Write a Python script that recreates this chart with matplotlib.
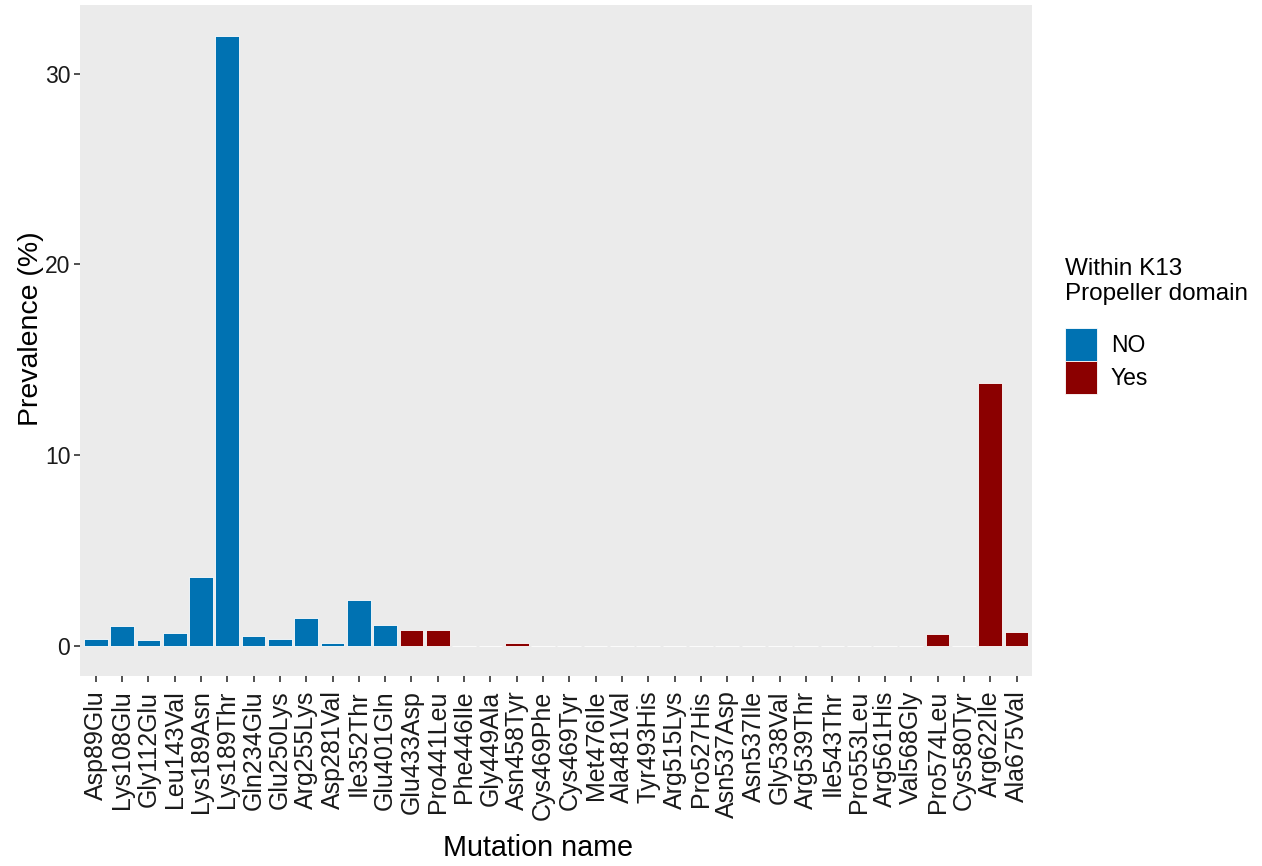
import matplotlib
matplotlib.use("Agg")
import matplotlib.pyplot as plt
from matplotlib.patches import Patch

plt.rcParams["font.family"] = ["Liberation Sans", "DejaVu Sans"]

mutations = [
    "Asp89Glu", "Lys108Glu", "Gly112Glu", "Leu143Val", "Lys189Asn", "Lys189Thr",
    "Gln234Glu", "Glu250Lys", "Arg255Lys", "Asp281Val", "Ile352Thr", "Glu401Gln",
    "Glu433Asp", "Pro441Leu", "Phe446Ile", "Gly449Ala", "Asn458Tyr", "Cys469Phe",
    "Cys469Tyr", "Met476Ile", "Ala481Val", "Tyr493His", "Arg515Lys", "Pro527His",
    "Asn537Asp", "Asn537Ile", "Gly538Val", "Arg539Thr", "Ile543Thr", "Pro553Leu",
    "Arg561His", "Val568Gly", "Pro574Leu", "Cys580Tyr", "Arg622Ile", "Ala675Val",
]
prevalence = [
    0.35, 1.02, 0.28, 0.65, 3.59, 32.0,
    0.49, 0.35, 1.44, 0.14, 2.41, 1.07,
    0.82, 0.82, 0.0, 0.0, 0.14, 0.0,
    0.0, 0.0, 0.0, 0.0, 0.0, 0.0,
    0.0, 0.0, 0.0, 0.0, 0.0, 0.0,
    0.0, 0.0, 0.61, 0.0, 13.75, 0.70,
]
# 12 mutations outside the propeller domain, the rest inside
in_propeller = ["NO"] * 12 + ["Yes"] * 24

palette = {"NO": "#0072B2", "Yes": "#8B0000"}

fig = plt.figure(figsize=(12.62, 8.66), dpi=100)
ax = fig.add_axes([0.0634, 0.2194, 0.7546, 0.7746])
ax.set_facecolor("#EBEBEB")

x = range(len(mutations))
ax.bar(x, prevalence, width=0.9,
       color=[palette[g] for g in in_propeller],
       edgecolor="white", linewidth=0.6)

ax.set_xlim(-0.6, len(mutations) - 0.4)
ax.set_ylim(-1.6, 33.6)
ax.set_yticks([0, 10, 20, 30])
ax.set_xticks(list(x))
ax.set_xticklabels(mutations, rotation=90, fontsize=18, color="#1a1a1a")
ax.tick_params(axis="y", labelsize=16.5, labelcolor="#1a1a1a", pad=3)
ax.tick_params(axis="x", pad=6.5)
ax.tick_params(axis="both", length=4, width=1.2, color="#333333")
for s in ax.spines.values():
    s.set_visible(False)

ax.set_ylabel("Prevalence (%)", fontsize=20.5)
ax.yaxis.set_label_coords(-0.038, 0.518)
fig.text(0.426, 0.021, "Mutation name", fontsize=20.7, ha="center", va="center")

handles = [Patch(facecolor=palette[k], edgecolor="white", linewidth=0.6, label=k)
           for k in ["NO", "Yes"]]
leg = fig.legend(handles=handles, title="Within K13\nPropeller domain",
                 loc="upper left", bbox_to_anchor=(0.8439, 0.702),
                 frameon=False, fontsize=16.5, title_fontsize=17.5,
                 handlelength=1.4, handleheight=1.84, labelspacing=0.0,
                 handletextpad=0.6, borderaxespad=0, borderpad=0)
leg._legend_box.align = "left"
leg._legend_box.sep = 16

fig.savefig("out.png", dpi=100)
